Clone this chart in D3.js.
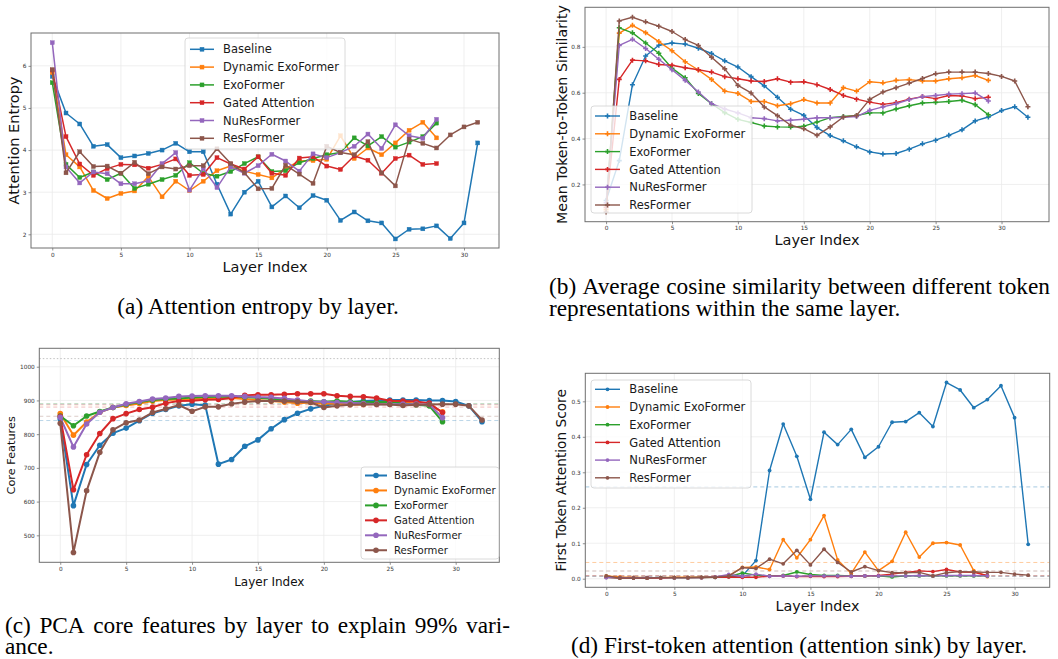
<!DOCTYPE html>
<html><head><meta charset="utf-8">
<script src="https://cdn.jsdelivr.net/npm/d3@7"></script>
<style>body{margin:0;background:#fff}svg{display:block}</style>
</head><body><svg id="fig" width="1058" height="659"></svg>
<script>
const seriesNames = ["Baseline","Dynamic ExoFormer","ExoFormer","Gated Attention","NuResFormer","ResFormer"];
const seriesColors = ["#1f77b4","#ff7f0e","#2ca02c","#d62728","#9467bd","#8c564b"];

// (a) Attention entropy
const entropyBaseline = [5.75,4.88,4.62,4.09,4.13,3.82,3.86,3.92,4.0,4.16,3.96,3.96,3.19,2.48,3.0,3.26,2.65,2.91,2.63,2.92,2.81,2.33,2.53,2.32,2.27,1.89,2.12,2.13,2.2,1.9,2.27,4.17];
const entropyDynamic = [5.84,3.89,3.6,3.04,2.85,2.97,3.03,3.37,2.89,3.26,3.04,3.26,3.51,3.62,3.5,3.42,3.34,3.56,3.74,3.75,3.78,4.34,3.8,4.05,3.89,4.17,4.47,4.66,4.29];
const entropyExo = [5.6,3.66,3.35,3.48,3.3,3.45,3.09,3.19,3.3,3.4,3.7,3.45,3.38,3.49,3.68,3.84,3.49,3.51,3.7,3.8,3.89,3.94,4.29,4.1,4.32,4.07,4.19,4.32,4.64];
const entropyGated = [5.9,4.32,3.67,3.4,3.56,3.66,3.65,3.57,3.66,3.79,3.4,3.42,3.82,3.67,3.55,3.84,3.45,3.4,3.81,3.84,3.62,3.54,3.86,3.76,3.45,3.8,3.88,3.66,3.68];
const entropyNuRes = [6.55,3.6,3.22,3.48,3.44,3.2,3.2,3.27,3.68,3.94,3.05,3.56,3.11,3.6,3.45,3.63,3.9,3.74,3.5,3.91,3.82,3.94,4.09,4.38,4.04,4.6,4.34,4.28,4.73];
const entropyRes = [5.91,3.46,3.96,3.61,3.62,3.45,3.71,3.44,3.6,3.55,3.63,3.63,4.03,3.68,3.46,3.08,3.09,3.64,3.43,3.21,4.09,3.94,3.89,4.2,3.46,3.15,4.26,4.16,4.05,4.36,4.55,4.66];

// (b) Mean token-to-token similarity
const simBaseline = [0.13,0.304,0.635,0.76,0.807,0.817,0.812,0.794,0.771,0.739,0.712,0.67,0.63,0.58,0.528,0.501,0.448,0.413,0.39,0.364,0.342,0.333,0.335,0.354,0.377,0.393,0.414,0.438,0.477,0.494,0.522,0.539,0.493];
const simDynamic = [0.09,0.86,0.894,0.862,0.823,0.783,0.735,0.699,0.658,0.607,0.597,0.562,0.562,0.543,0.552,0.57,0.555,0.555,0.622,0.607,0.648,0.643,0.654,0.657,0.651,0.651,0.661,0.665,0.675,0.654];
const simExo = [0.11,0.883,0.861,0.817,0.772,0.707,0.665,0.597,0.552,0.513,0.484,0.47,0.455,0.451,0.45,0.454,0.472,0.491,0.496,0.5,0.512,0.512,0.529,0.543,0.555,0.558,0.562,0.567,0.548,0.504];
const simGated = [0.1,0.658,0.742,0.739,0.723,0.72,0.709,0.7,0.69,0.67,0.661,0.651,0.649,0.661,0.646,0.648,0.635,0.614,0.588,0.572,0.559,0.549,0.557,0.572,0.583,0.574,0.588,0.586,0.574,0.58];
const simNuRes = [0.12,0.806,0.833,0.793,0.746,0.7,0.654,0.603,0.552,0.529,0.512,0.491,0.487,0.477,0.48,0.484,0.491,0.491,0.493,0.496,0.523,0.538,0.552,0.57,0.583,0.588,0.594,0.596,0.599,0.564];
const simRes = [0.08,0.913,0.929,0.909,0.89,0.867,0.832,0.806,0.755,0.704,0.632,0.599,0.538,0.5,0.458,0.443,0.414,0.451,0.494,0.501,0.571,0.603,0.622,0.642,0.662,0.683,0.69,0.69,0.69,0.684,0.671,0.651,0.539];

// (c) PCA core features (99% variance)
const coreBaseline = [845,588,710,767,803,818,840,862,873,884,889,886,711,725,764,783,816,843,862,875,884,891,895,898,900,901,901,901,900,900,897,884,837];
const coreDynamic = [861,797,836,865,879,885,891,898,901,903,904,906,906,907,904,901,898,895,892,894,891,890,888,888,891,896,895,890,886,866];
const coreExo = [854,825,854,867,879,888,895,901,904,906,909,910,911,911,910,908,905,903,899,898,896,898,896,895,895,895,891,887,884,837];
const coreGated = [852,635,739,802,846,861,873,880,892,898,899,902,903,907,915,917,917,918,920,920,920,914,912,911,907,899,898,897,892,864];
const coreNuRes = [850,762,830,865,879,890,897,904,907,912,913,914,914,914,912,910,909,906,901,897,896,894,893,891,889,889,889,889,888,849];
const coreRes = [832,449,632,746,813,834,842,864,875,886,868,881,881,890,895,898,898,898,896,894,879,884,887,888,888,888,885,887,888,889,889,884,842];
const coreHiddenDim = 1024;

// (d) First token attention score
const sinkBaseline = [0.005,0.003,0.003,0.003,0.003,0.003,0.003,0.004,0.004,0.006,0.008,0.051,0.305,0.436,0.345,0.224,0.413,0.378,0.421,0.342,0.372,0.441,0.443,0.468,0.429,0.553,0.532,0.482,0.505,0.544,0.454,0.097];
const sinkDynamic = [0.008,0.005,0.004,0.003,0.003,0.004,0.004,0.004,0.005,0.008,0.032,0.033,0.026,0.11,0.059,0.11,0.178,0.053,0.015,0.075,0.023,0.049,0.131,0.061,0.1,0.102,0.095,0.023,0.006];
const sinkExo = [0.004,0.002,0.002,0.002,0.003,0.003,0.003,0.003,0.004,0.006,0.016,0.01,0.008,0.009,0.019,0.012,0.009,0.009,0.008,0.008,0.008,0.005,0.008,0.008,0.008,0.008,0.008,0.008,0.008];
const sinkGated = [0.004,0.002,0.002,0.002,0.002,0.003,0.003,0.003,0.004,0.005,0.004,0.004,0.007,0.008,0.006,0.007,0.006,0.006,0.007,0.008,0.009,0.013,0.018,0.022,0.02,0.026,0.019,0.018,0.009];
const sinkNuRes = [0.003,0.003,0.003,0.003,0.003,0.003,0.003,0.003,0.005,0.012,0.007,0.013,0.007,0.008,0.007,0.008,0.008,0.008,0.007,0.008,0.008,0.008,0.008,0.009,0.008,0.009,0.009,0.009,0.008];
const sinkRes = [0.008,0.002,0.002,0.002,0.003,0.003,0.003,0.004,0.004,0.008,0.031,0.029,0.055,0.042,0.08,0.039,0.083,0.046,0.019,0.034,0.023,0.017,0.017,0.018,0.008,0.017,0.02,0.019,0.018,0.018,0.013,0.01];

// tick labels
const layerTicks = [0,5,10,15,20,25,30];
const entropyTicks = [2,3,4,5,6];
const simTicks = [0.2,0.4,0.6,0.8];
const coreTicks = [500,600,700,800,900,1000];
const sinkTicks = [0.0,0.1,0.2,0.3,0.4,0.5];

const captions = {
  a: ["(a) Attention entropy by layer."],
  b: ["(b) Average cosine similarity between different token","representations within the same layer."],
  c: ["(c) PCA core features by layer to explain 99% vari-","ance."],
  d: ["(d) First-token attention (attention sink) by layer."]
};

const svg = d3.select("#fig");
svg.append("rect").attr("width",1058).attr("height",659).attr("fill","#fff");
const FONT = "DejaVu Sans, sans-serif";
const SERIF = "Liberation Serif, Times New Roman, serif";

function drawPanel(p){
  const g = svg.append("g");
  const x = d3.scaleLinear().domain(p.xDomain).range([p.box.x0,p.box.x1]);
  const y = d3.scaleLinear().domain(p.yDomain).range([p.box.y1,p.box.y0]);
  const clipId = "clip"+p.id;
  svg.append("clipPath").attr("id",clipId).append("rect")
    .attr("x",p.box.x0).attr("y",p.box.y0).attr("width",p.box.x1-p.box.x0).attr("height",p.box.y1-p.box.y0);
  // grid
  g.selectAll(null).data(p.xTicks).join("line")
    .attr("x1",d=>x(d)).attr("x2",d=>x(d)).attr("y1",p.box.y0).attr("y2",p.box.y1)
    .attr("stroke","#ebebeb").attr("stroke-width",0.8);
  g.selectAll(null).data(p.yTicks).join("line")
    .attr("x1",p.box.x0).attr("x2",p.box.x1).attr("y1",d=>y(d)).attr("y2",d=>y(d))
    .attr("stroke","#ebebeb").attr("stroke-width",0.8);
  const plot = g.append("g").attr("clip-path",`url(#${clipId})`);
  if(p.refLines){
    p.refLines.forEach(r=>{
      plot.append("line").attr("x1",p.box.x0).attr("x2",p.box.x1)
        .attr("y1",y(r.v)).attr("y2",y(r.v))
        .attr("stroke",r.color).attr("stroke-opacity",r.op).attr("stroke-width",1)
        .attr("stroke-dasharray",r.dash);
    });
  }
  const line = d3.line().x((d,i)=>x(i)).y(d=>y(d));
  p.series.forEach((s,k)=>{
    const c = seriesColors[k];
    plot.append("path").attr("d",line(s)).attr("fill","none").attr("stroke",c)
      .attr("stroke-width",p.lw).attr("stroke-linejoin","round");
    drawMarkers(plot, s.map((v,i)=>[x(i),y(v)]), p.marker, p.ms, c);
  });
  const ax = g.append("g").attr("transform",`translate(0,${p.box.y1})`)
    .call(d3.axisBottom(x).tickValues(p.xTicks).tickSize(2.5).tickPadding(2).tickFormat(d3.format("d")));
  const ay = g.append("g").attr("transform",`translate(${p.box.x0},0)`)
    .call(d3.axisLeft(y).tickValues(p.yTicks).tickSize(2.5).tickPadding(2).tickFormat(p.yFmt));
  [ax,ay].forEach(a=>{
    a.select(".domain").remove();
    a.selectAll("line").attr("stroke","#444").attr("stroke-width",0.6);
    a.selectAll("text").attr("font-family",FONT).attr("font-size",5.8).attr("fill","#333");
  });
  g.append("rect").attr("x",p.box.x0).attr("y",p.box.y0)
    .attr("width",p.box.x1-p.box.x0).attr("height",p.box.y1-p.box.y0)
    .attr("fill","none").attr("stroke","#6e6e6e").attr("stroke-width",1);
  // legend
  const L = p.legend;
  const lg = g.append("g");
  lg.append("rect").attr("x",L.x).attr("y",L.y).attr("width",L.w).attr("height",L.h)
    .attr("rx",3).attr("fill","#fff").attr("fill-opacity",0.8).attr("stroke","#d0d0d0").attr("stroke-width",0.8);
  seriesNames.forEach((n,k)=>{
    const yy = L.row0 + k*L.dy;
    lg.append("line").attr("x1",L.lx0).attr("x2",L.lx1).attr("y1",yy).attr("y2",yy)
      .attr("stroke",seriesColors[k]).attr("stroke-width",p.lw);
    drawMarkers(lg,[[ (L.lx0+L.lx1)/2, yy ]],p.marker,p.ms,seriesColors[k]);
    lg.append("text").attr("x",L.tx).attr("y",yy).attr("dy","0.36em")
      .attr("font-family",FONT).attr("font-size",L.fs).attr("fill","#1a1a1a").text(n);
  });
  g.append("text").attr("x",(p.box.x0+p.box.x1)/2).attr("y",p.xlab.y)
    .attr("text-anchor","middle").attr("font-family",FONT).attr("font-size",p.xlab.fs).attr("fill","#111").text("Layer Index");
  g.append("text").attr("transform",`translate(${p.ylab.x},${(p.box.y0+p.box.y1)/2}) rotate(-90)`)
    .attr("text-anchor","middle").attr("font-family",FONT).attr("font-size",p.ylab.fs).attr("fill","#111").text(p.ylab.text);
  drawCaption(p.caption);
}

function drawCaption(c){
  c.lines.forEach((t,i)=>{
    const yy = c.y + i*c.lh;
    if(c.justify && c.justify[i]){
      const words = t.split(" ");
      const tmp = svg.append("text").attr("font-family",SERIF).attr("font-size",c.fs);
      const widths = words.map(w=>{ tmp.text(w); return tmp.node().getComputedTextLength(); });
      tmp.remove();
      const total = d3.sum(widths);
      const gap = (c.width - total)/(words.length-1);
      let xx = c.x;
      words.forEach((w,j)=>{
        svg.append("text").attr("x",xx).attr("y",yy).attr("font-family",SERIF)
          .attr("font-size",c.fs).attr("fill","#000").text(w);
        xx += widths[j] + gap;
      });
    } else {
      svg.append("text").attr("x",c.x).attr("y",yy)
        .attr("text-anchor",c.anchor).attr("font-family",SERIF)
        .attr("font-size",c.fs).attr("fill","#000").text(t);
    }
  });
}

function drawMarkers(sel, pts, type, ms, c){
  if(type==="square"){
    sel.selectAll(null).data(pts).join("rect")
      .attr("x",d=>d[0]-ms/2).attr("y",d=>d[1]-ms/2).attr("width",ms).attr("height",ms)
      .attr("fill",c).attr("stroke",c).attr("stroke-width",0.4);
  } else if(type==="circle"){
    sel.selectAll(null).data(pts).join("circle")
      .attr("cx",d=>d[0]).attr("cy",d=>d[1]).attr("r",ms).attr("fill",c);
  } else if(type==="plus"){
    sel.selectAll(null).data(pts).join("path")
      .attr("d",d=>`M${d[0]-ms/2},${d[1]}H${d[0]+ms/2}M${d[0]},${d[1]-ms/2}V${d[1]+ms/2}`)
      .attr("stroke",c).attr("stroke-width",1.6).attr("fill","none");
  }
}

function meanLines(series, op){
  return series.map((s,k)=>({v:d3.mean(s),color:seriesColors[k],op:op,dash:"4,3"}));
}

const fmt1 = d3.format(".1f");
const CFS = 23.3;

drawPanel({
  id:"a", box:{x0:31,x1:499,y0:33,y1:248},
  xDomain:[-1.55,32.55], yDomain:[1.675,6.78],
  xTicks:layerTicks, yTicks:entropyTicks, yFmt:d3.format("d"),
  series:[entropyBaseline,entropyDynamic,entropyExo,entropyGated,entropyNuRes,entropyRes],
  marker:"square", ms:4, lw:1.5,
  legend:{x:185,y:38,w:160,h:111,row0:49.3,dy:17.8,lx0:190,lx1:214,tx:223,fs:11.5},
  xlab:{y:272,fs:14.5}, ylab:{x:18.5,fs:14.5,text:"Attention Entropy"},
  caption:{lines:captions.a,x:258,y:314,lh:22,anchor:"middle",fs:CFS}
});

drawPanel({
  id:"b", box:{x0:585,x1:1049,y0:7.3,y1:221.7},
  xDomain:[-1.6,33.6], yDomain:[0.0375,0.9725],
  xTicks:layerTicks, yTicks:simTicks, yFmt:fmt1,
  series:[simBaseline,simDynamic,simExo,simGated,simNuRes,simRes],
  marker:"plus", ms:5, lw:1.4,
  legend:{x:591,y:106,w:161,h:107,row0:116,dy:17.8,lx0:595,lx1:620,tx:629.3,fs:11.5},
  xlab:{y:244.5,fs:14.5}, ylab:{x:566.5,fs:14.2,text:"Mean Token-to-Token Similarity"},
  caption:{lines:captions.b,x:549,y:294,lh:22,anchor:"start",fs:CFS,justify:[true,false],width:501}
});

drawPanel({
  id:"c", box:{x0:39.3,x1:499.3,y0:348.3,y1:562.3},
  xDomain:[-1.59,33.31], yDomain:[420,1054.6],
  xTicks:layerTicks, yTicks:coreTicks, yFmt:d3.format("d"),
  series:[coreBaseline,coreDynamic,coreExo,coreGated,coreNuRes,coreRes],
  marker:"circle", ms:2.8, lw:2,
  refLines:[{v:coreHiddenDim,color:"#999",op:0.6,dash:"1.5,2"}].concat(
    meanLines([coreBaseline,coreDynamic,coreExo,coreGated,coreNuRes,coreRes],0.3)),
  legend:{x:361,y:467,w:138,h:92,row0:475.5,dy:14.95,lx0:365,lx1:387,tx:394,fs:10.1},
  xlab:{y:586,fs:12},ylab:{x:14.5,fs:11.3,text:"Core Features"},
  caption:{lines:captions.c,x:5,y:633,lh:21,anchor:"start",fs:CFS,justify:[true,false],width:505}
});

drawPanel({
  id:"d", box:{x0:585.3,x1:1049.7,y0:373.3,y1:587.3},
  xDomain:[-1.54,32.58], yDomain:[-0.0242,0.579],
  xTicks:layerTicks, yTicks:sinkTicks, yFmt:fmt1,
  series:[sinkBaseline,sinkDynamic,sinkExo,sinkGated,sinkNuRes,sinkRes],
  marker:"circle", ms:1.9, lw:1.4,
  refLines:meanLines([sinkBaseline,sinkDynamic,sinkExo,sinkGated,sinkNuRes,sinkRes],0.4),
  legend:{x:591,y:380,w:160,h:108,row0:389.3,dy:17.7,lx0:595,lx1:620,tx:629.3,fs:11.5},
  xlab:{y:611,fs:14.3},ylab:{x:566,fs:13.7,text:"First Token Attention Score"},
  caption:{lines:captions.d,x:799,y:653,lh:22,anchor:"middle",fs:CFS}
});
</script>
</body></html>
